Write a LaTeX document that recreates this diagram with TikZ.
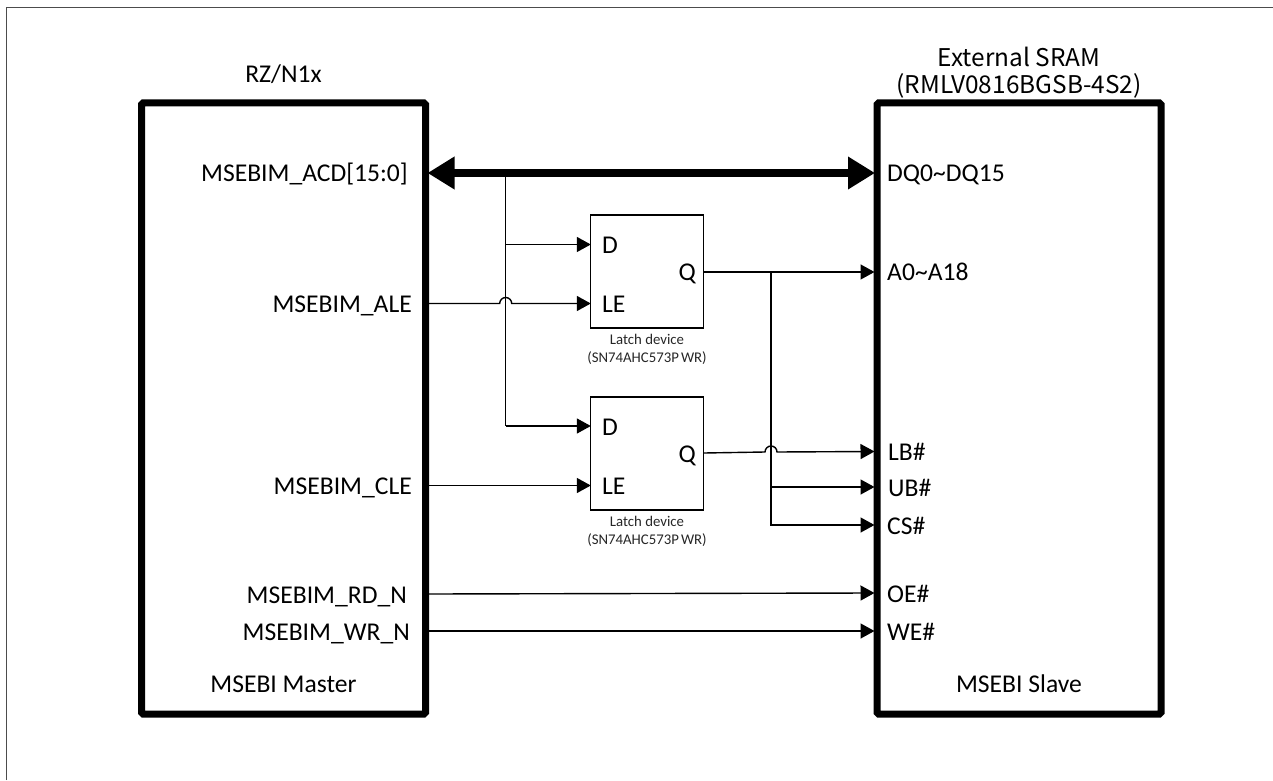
\documentclass[tikz,border=0pt]{standalone}
\usepackage{fontspec}
\setmainfont{Carlito}
\newfontfamily\titlefont{Noto Sans CJK JP}
\usetikzlibrary{positioning,arrows.meta}

\begin{document}
\begin{tikzpicture}[
  x=1pt, y=1pt,
  every node/.style={font=\fontsize{25.6}{30}\selectfont, inner sep=0pt},
  chip/.style={draw=black, line width=7pt, rounded corners=1.5pt, minimum width=284pt, minimum height=611pt},
  latch/.style={draw=black, line width=1.4pt, minimum width=113pt, minimum height=113pt},
  pin/.style={text height=22pt, text depth=4pt},
  latchcap/.style={font=\fontsize{14.8}{18}\selectfont, align=center, text=black!85},
  sig/.style={-{Triangle[length=14pt, width=15pt]}, line width=1.4pt, draw=black, shorten >=-1pt},
  wire/.style={line width=1.4pt, draw=black},
  bus/.style={{Triangle[length=27pt, width=31pt]}-{Triangle[length=27pt, width=31pt]}, line width=8pt, draw=black, shorten <=-1.5pt, shorten >=-1.5pt}
]
\useasboundingbox (0,0) rectangle (1273,780);

% Outer frame
\coordinate (frameA) at (6.5,0);
\coordinate (frameB) at (6.5,772.5);
\coordinate (frameC) at (1273,772.5);
\draw[line width=1.5pt, draw=black!70] (frameA) -- (frameB) -- (frameC);

% Main blocks
\node[chip] (master) at (283.5,371.5) {};
\node[chip] (slave) at (1019,371.5) {};
\node[above=16pt of master] (rzn) {RZ/N1x};
\node[above=1pt of slave, align=center, font=\titlefont\fontsize{24.4}{27}\selectfont] (sram) {External SRAM\\(RMLV0816BGSB-4S2)};
\node[above=25pt of master.south] (mst) {MSEBI Master};
\node[above=25pt of slave.south] (slv) {MSEBI Slave};

% Latch devices
\node[latch] (latA) at (647,508.5) {};
\node[latch] (latB) at (647,326.5) {};
\node[latchcap, below=5pt of latA] (capA) {Latch device\\(SN74AHC573P\kern2pt WR)};
\node[latchcap, below=5pt of latB] (capB) {Latch device\\(SN74AHC573P\kern2pt WR)};

% Master pins
\node[pin, anchor=east] (acd) at (408,607) {MSEBIM\_ACD[15:0]};
\node[pin, anchor=east] (ale) at (412,476.5) {MSEBIM\_ALE};
\node[pin, anchor=east] (cle) at (412,294.5) {MSEBIM\_CLE};
\node[pin, anchor=east] (rdn) at (407,186) {MSEBIM\_RD\_N};
\node[pin, anchor=east] (wrn) at (410,149) {MSEBIM\_WR\_N};

% Slave pins
\node[pin, anchor=west] (dq) at (887,607) {DQ0\textasciitilde DQ15};
\node[pin, anchor=west] (adr) at (887,508) {A0\textasciitilde A18};
\node[pin, anchor=west] (lb) at (888,328.5) {LB\#};
\node[pin, anchor=west] (ub) at (888,293) {UB\#};
\node[pin, anchor=west] (cs) at (887,255) {CS\#};
\node[pin, anchor=west] (oe) at (887,187) {OE\#};
\node[pin, anchor=west] (we) at (887,149) {WE\#};

% Latch pins
\node[pin, anchor=west] (dA) at (602,535.5) {D};
\node[pin, anchor=west] (leA) at (602,476.5) {LE};
\node[pin, anchor=east] (qA) at (696,508) {Q};
\node[pin, anchor=west] (dB) at (602,354) {D};
\node[pin, anchor=west] (leB) at (602,294.5) {LE};
\node[pin, anchor=east] (qB) at (696,327) {Q};

% Branch points
\coordinate (busTap) at (505.7,607);
\coordinate (qTap) at (771,508);
\coordinate (hopA) at (505.7,476.5);
\coordinate (hopB) at (771,328);

% Data bus
\draw[bus] (master.east |- acd) -- (slave.west |- dq);

% Address and data into the latches
\draw[wire] (busTap) -- (busTap |- dB);
\draw[sig] (busTap |- dA) -- (latA.west |- dA);
\draw[sig] (busTap |- dB) -- (latB.west |- dB);

% Latch enables
\draw[sig] (master.east |- ale) -- ([xshift=-6pt]hopA) arc[start angle=180, end angle=0, radius=6pt] -- (latA.west |- leA);
\draw[sig] (master.east |- cle) -- (latB.west |- leB);

% Latch outputs
\draw[sig] (latA.east |- qA) -- (slave.west |- adr);
\draw[sig] (latB.east |- qB) -- ([xshift=-6pt]hopB) arc[start angle=180, end angle=0, radius=6pt] -- (slave.west |- lb);
\draw[sig] (qTap) |- (slave.west |- cs);
\draw[sig] (qTap |- ub) -- (slave.west |- ub);

% Read and write strobes
\draw[sig] (master.east |- rdn) -- (slave.west |- oe);
\draw[sig] (master.east |- wrn) -- (slave.west |- we);
\end{tikzpicture}
\end{document}
